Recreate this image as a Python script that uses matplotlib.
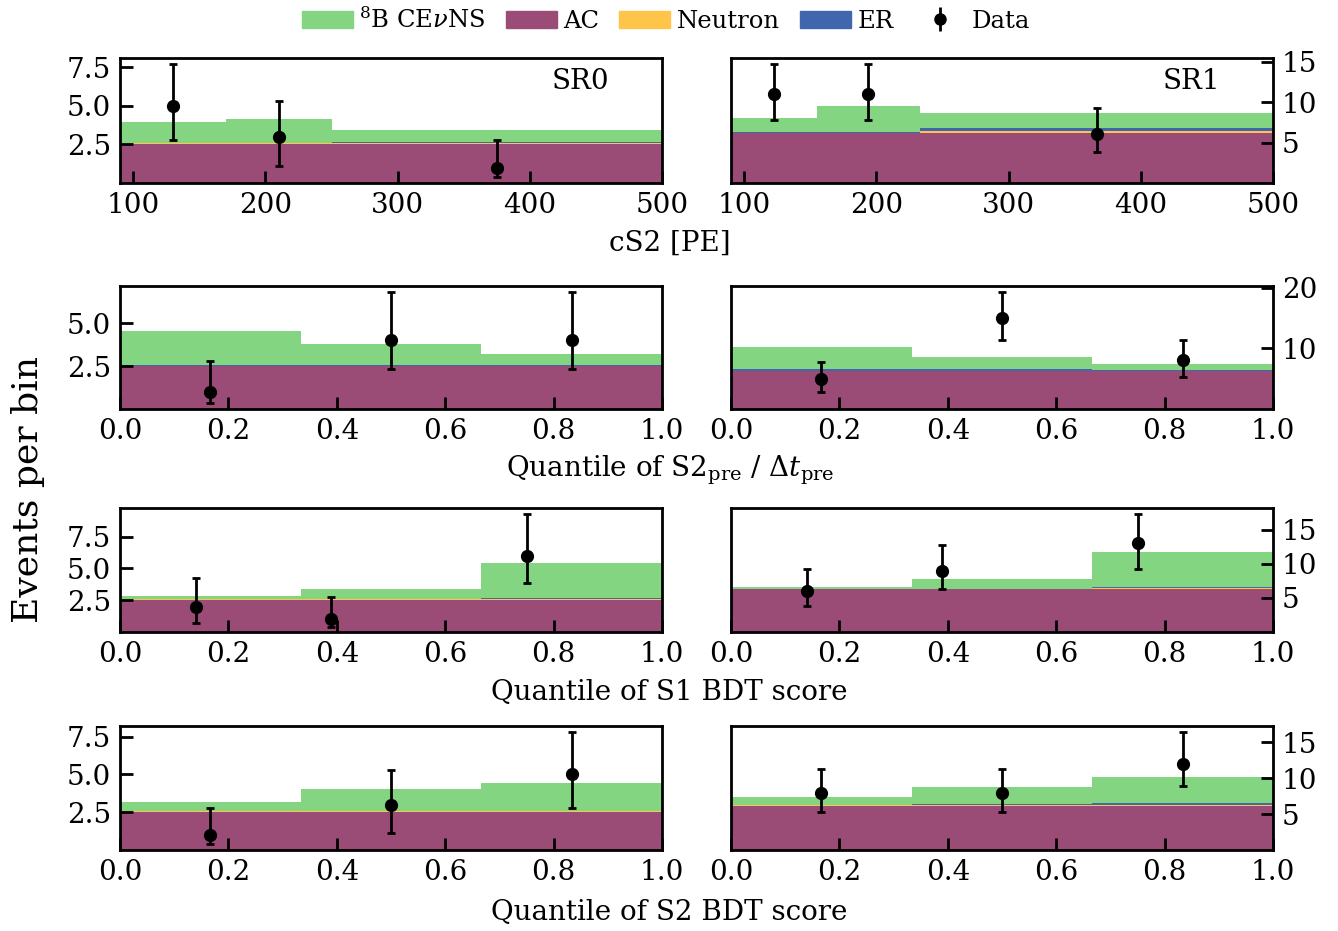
import matplotlib
matplotlib.use("Agg")
import matplotlib.pyplot as plt
from matplotlib.patches import Patch
import numpy as np

plt.rcParams['font.family'] = ['DejaVu Serif']
plt.rcParams['mathtext.fontset'] = 'dejavuserif'

# ---------------- data ----------------
# Panel 1: cS2 [PE]
sr0_cs2_edges = [90, 170, 250, 500]
sr0_cs2_ac = [2.55, 2.55, 2.55]
sr0_cs2_neutron = [0.01, 0.01, 0.03]
sr0_cs2_er = [0.01, 0.01, 0.08]
sr0_cs2_cevns = [1.35, 1.60, 0.74]
sr0_cs2_x = [130, 210, 375]
sr0_cs2_n = [5, 3, 1]
sr0_cs2_lo = [2.75, 1.10, 0.37]
sr0_cs2_hi = [7.70, 5.30, 2.78]

sr1_cs2_edges = [90, 155, 233, 500]
sr1_cs2_ac = [6.20, 6.20, 6.20]
sr1_cs2_neutron = [0.02, 0.02, 0.20]
sr1_cs2_er = [0.02, 0.10, 0.35]
sr1_cs2_cevns = [1.76, 3.23, 1.85]
sr1_cs2_x = [122.5, 194, 366.5]
sr1_cs2_n = [11, 11, 6]
sr1_cs2_lo = [7.81, 7.81, 3.82]
sr1_cs2_hi = [14.70, 14.70, 9.30]

# Panel 2: quantile of S2pre / dt_pre
q_edges = [0, 1/3, 2/3, 1]
sr0_pre_ac = [2.50, 2.50, 2.50]
sr0_pre_neutron = [0.03, 0.03, 0.03]
sr0_pre_er = [0.05, 0.05, 0.03]
sr0_pre_cevns = [1.99, 1.22, 0.67]
sr0_pre_x = [1/6, 0.5, 5/6]
sr0_pre_n = [1, 4, 4]
sr0_pre_lo = [0.37, 2.34, 2.34]
sr0_pre_hi = [2.78, 6.82, 6.82]

sr1_pre_ac = [6.24, 6.24, 6.24]
sr1_pre_neutron = [0.05, 0.05, 0.05]
sr1_pre_er = [0.30, 0.25, 0.10]
sr1_pre_cevns = [3.65, 1.97, 1.04]
sr1_pre_x = [1/6, 0.5, 5/6]
sr1_pre_n = [5, 15, 8]
sr1_pre_lo = [2.75, 11.32, 5.30]
sr1_pre_hi = [7.81, 19.32, 11.32]

# Panel 3: quantile of S1 BDT score
sr0_s1_ac = [2.55, 2.55, 2.55]
sr0_s1_neutron = [0.02, 0.02, 0.05]
sr0_s1_er = [0.02, 0.02, 0.10]
sr0_s1_cevns = [0.20, 0.77, 2.74]
sr0_s1_x = [0.14, 0.39, 0.75]
sr0_s1_n = [2, 1, 6]
sr0_s1_lo = [0.74, 0.37, 3.82]
sr0_s1_hi = [4.25, 2.75, 9.28]

sr1_s1_ac = [6.25, 6.25, 6.25]
sr1_s1_neutron = [0.03, 0.03, 0.15]
sr1_s1_er = [0.03, 0.05, 0.25]
sr1_s1_cevns = [0.33, 1.37, 5.12]
sr1_s1_x = [0.14, 0.39, 0.75]
sr1_s1_n = [6, 9, 13]
sr1_s1_lo = [3.82, 6.33, 9.28]
sr1_s1_hi = [9.28, 12.79, 17.30]

# Panel 4: quantile of S2 BDT score
sr0_s2_ac = [2.54, 2.54, 2.54]
sr0_s2_neutron = [0.02, 0.03, 0.03]
sr0_s2_er = [0.02, 0.02, 0.03]
sr0_s2_cevns = [0.62, 1.43, 1.81]
sr0_s2_x = [1/6, 0.5, 5/6]
sr0_s2_n = [1, 3, 5]
sr0_s2_lo = [0.37, 1.10, 2.75]
sr0_s2_hi = [2.75, 5.30, 7.81]

sr1_s2_ac = [6.18, 6.18, 6.18]
sr1_s2_neutron = [0.02, 0.10, 0.10]
sr1_s2_er = [0.05, 0.10, 0.20]
sr1_s2_cevns = [1.11, 2.42, 3.72]
sr1_s2_x = [1/6, 0.5, 5/6]
sr1_s2_n = [8, 8, 12]
sr1_s2_lo = [5.30, 5.30, 8.90]
sr1_s2_hi = [11.32, 11.32, 16.45]

xlabels = ["cS2 [PE]",
           r"Quantile of S2$_{\rm pre}$ / $\Delta t_{\rm pre}$",
           "Quantile of S1 BDT score",
           "Quantile of S2 BDT score"]
yticks_sr0 = [[2.5, 5.0, 7.5], [2.5, 5.0], [2.5, 5.0, 7.5], [2.5, 5.0, 7.5]]
yticks_sr1 = [[5, 10, 15], [10, 20], [5, 10, 15], [5, 10, 15]]
legend_labels = [r"$^{8}$B CE$\nu$NS", "AC", "Neutron", "ER", "Data"]

# ---------------- style ----------------
c_cevns = "#84D582"
c_ac = "#9A4C77"
c_neutron = "#FFC44A"
c_er = "#4066B0"

FS = 20
W, H = 1338, 931
row_top_px = [58, 286, 508, 726]
row_bot_px = [183, 409, 632, 850]
col_left_px = [120, 731]
col_w_px = 542

panels = [
    [(sr0_cs2_edges, sr0_cs2_ac, sr0_cs2_neutron, sr0_cs2_er, sr0_cs2_cevns,
      sr0_cs2_x, sr0_cs2_n, sr0_cs2_lo, sr0_cs2_hi),
     (sr1_cs2_edges, sr1_cs2_ac, sr1_cs2_neutron, sr1_cs2_er, sr1_cs2_cevns,
      sr1_cs2_x, sr1_cs2_n, sr1_cs2_lo, sr1_cs2_hi)],
    [(q_edges, sr0_pre_ac, sr0_pre_neutron, sr0_pre_er, sr0_pre_cevns,
      sr0_pre_x, sr0_pre_n, sr0_pre_lo, sr0_pre_hi),
     (q_edges, sr1_pre_ac, sr1_pre_neutron, sr1_pre_er, sr1_pre_cevns,
      sr1_pre_x, sr1_pre_n, sr1_pre_lo, sr1_pre_hi)],
    [(q_edges, sr0_s1_ac, sr0_s1_neutron, sr0_s1_er, sr0_s1_cevns,
      sr0_s1_x, sr0_s1_n, sr0_s1_lo, sr0_s1_hi),
     (q_edges, sr1_s1_ac, sr1_s1_neutron, sr1_s1_er, sr1_s1_cevns,
      sr1_s1_x, sr1_s1_n, sr1_s1_lo, sr1_s1_hi)],
    [(q_edges, sr0_s2_ac, sr0_s2_neutron, sr0_s2_er, sr0_s2_cevns,
      sr0_s2_x, sr0_s2_n, sr0_s2_lo, sr0_s2_hi),
     (q_edges, sr1_s2_ac, sr1_s2_neutron, sr1_s2_er, sr1_s2_cevns,
      sr1_s2_x, sr1_s2_n, sr1_s2_lo, sr1_s2_hi)],
]

fig = plt.figure(figsize=(13.38, 9.31), dpi=100)
axes = np.empty((4, 2), dtype=object)

for r in range(4):
    for c in range(2):
        rect = [col_left_px[c] / W, 1 - row_bot_px[r] / H,
                col_w_px / W, (row_bot_px[r] - row_top_px[r]) / H]
        ax = fig.add_axes(rect)
        axes[r, c] = ax
        edges, ac, neu, er, cev, x, n, lo, hi = panels[r][c]
        ac = np.array(ac); neu = np.array(neu); er = np.array(er); cev = np.array(cev)
        b0 = np.zeros_like(ac)
        b1 = b0 + ac
        b2 = b1 + neu
        b3 = b2 + er
        b4 = b3 + cev
        ax.stairs(b1, edges, baseline=b0, fill=True, color=c_ac, lw=0)
        ax.stairs(b2, edges, baseline=b1, fill=True, color=c_neutron, lw=0)
        ax.stairs(b3, edges, baseline=b2, fill=True, color=c_er, lw=0)
        ax.stairs(b4, edges, baseline=b3, fill=True, color=c_cevns, lw=0)
        n = np.array(n, float)
        yerr = np.vstack([n - np.array(lo), np.array(hi) - n])
        ax.errorbar(x, n, yerr=yerr, fmt='o', color='black', ms=8.5,
                    elinewidth=2, capsize=3, capthick=2, zorder=5)
        ax.set_xlim(edges[0], edges[-1])
        ax.set_ylim(0, max(hi) * 1.05)
        if r == 0:
            ax.set_xticks([100, 200, 300, 400, 500])
        else:
            ax.set_xticks([0.0, 0.2, 0.4, 0.6, 0.8, 1.0])
        if c == 0:
            ax.set_yticks(yticks_sr0[r])
        else:
            ax.set_yticks(yticks_sr1[r])
            ax.yaxis.tick_right()
        ax.tick_params(direction='in', length=9, width=2, labelsize=FS, pad=6.5)
        for s in ax.spines.values():
            s.set_linewidth(2)
        if r == 0:
            ax.text(0.85, 0.81, "SR0" if c == 0 else "SR1", transform=ax.transAxes,
                    ha='center', va='center', fontsize=FS)

label_y = [0.739, 0.4952, 0.2567, 0.0204]
for lab, yy in zip(xlabels, label_y):
    fig.text(0.5005, yy, lab, ha='center', va='center', fontsize=FS)

fig.text(0.021, 0.474, "Events per bin", rotation=90, ha='center', va='center',
         fontsize=26)

data_handle = axes[0, 0].errorbar([], [], yerr=[], fmt='o', color='black', ms=8,
                                  elinewidth=2, capsize=3, capthick=2)
handles = [Patch(color=c_cevns), Patch(color=c_ac), Patch(color=c_neutron),
           Patch(color=c_er), data_handle]
fig.legend(handles, legend_labels, loc='upper center', bbox_to_anchor=(0.4975, 1.016),
           ncol=5, frameon=False, fontsize=17.5, handlelength=2.1,
           handletextpad=0.25, columnspacing=0.85)

fig.savefig("out.png", dpi=100)
